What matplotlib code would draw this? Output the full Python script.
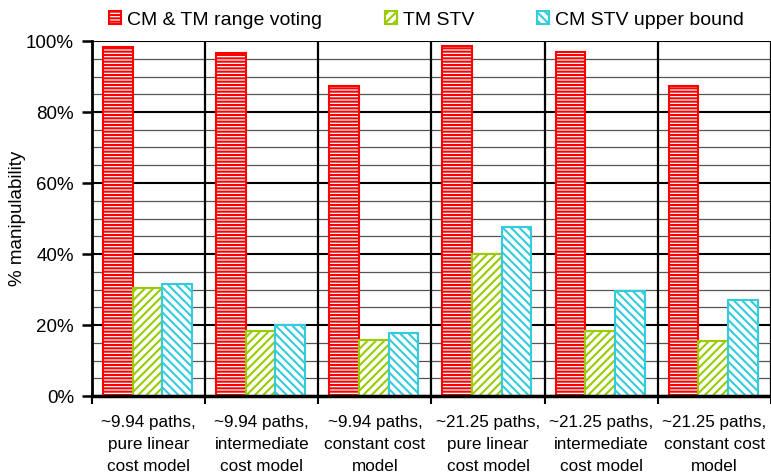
import numpy as np
import matplotlib
matplotlib.use('Agg')
import matplotlib.pyplot as plt
from matplotlib.ticker import MultipleLocator, FuncFormatter

categories = ['~9.94 paths,\npure linear\ncost model',
              '~9.94 paths,\nintermediate\ncost model',
              '~9.94 paths,\nconstant cost\nmodel',
              '~21.25 paths,\npure linear\ncost model',
              '~21.25 paths,\nintermediate\ncost model',
              '~21.25 paths,\nconstant cost\nmodel']
range_voting = [98.2, 96.6, 87.3, 98.6, 96.8, 87.4]
tm_stv = [30.3, 18.2, 15.7, 40.1, 18.3, 15.4]
cm_stv_upper = [31.5, 19.9, 17.7, 47.6, 29.6, 27.0]

series = [
    ('CM & TM range voting', range_voting, '#FF0000', '-----'),
    ('TM STV', tm_stv, '#99CC00', '////'),
    ('CM STV upper bound', cm_stv_upper, '#33CCDD', '\\\\\\\\'),
]

plt.rcParams['font.family'] = ['Liberation Sans', 'DejaVu Sans']
plt.rcParams['hatch.linewidth'] = 1.5

fig = plt.figure(figsize=(7.71, 4.73), dpi=100)
ax = fig.add_axes([92 / 771, 1 - 396 / 473, 1 - 92 / 771, (396 - 41) / 473])

x = np.arange(len(categories))
width = 0.262
for k, (name, vals, color, hatch) in enumerate(series):
    ax.bar(x + (k - 1) * width - 0.01, vals, width, facecolor='white',
           edgecolor=color, hatch=hatch, linewidth=1.5, label=name, zorder=3)

ax.set_xlim(-0.5, 5.5)
ax.set_ylim(0, 100)
ax.yaxis.set_major_locator(MultipleLocator(20))
ax.yaxis.set_minor_locator(MultipleLocator(5))
ax.yaxis.set_major_formatter(FuncFormatter(lambda v, p: f"{v:.0f}%"))
ax.grid(which='major', axis='y', color='black', linewidth=1.5, zorder=1)
ax.grid(which='minor', axis='y', color='#555555', linewidth=0.9, zorder=1)
for b in np.arange(-0.5, 6.0, 1.0):
    ax.axvline(b, color='black', linewidth=1.6, zorder=2)

ax.set_xticks(x)
ax.set_xticklabels(categories, fontsize=12.3, linespacing=1.55)
ax.set_xticks(np.arange(-0.5, 6.0, 1.0), minor=True)
ax.tick_params(axis='x', which='major', length=0, pad=14)
ax.tick_params(axis='x', which='minor', length=6, width=1.5, direction='out')
ax.tick_params(axis='y', which='major', length=7, width=1.8, labelsize=13.5, pad=6)
ax.tick_params(axis='y', which='minor', length=0)

for side in ['top', 'right']:
    ax.spines[side].set_visible(False)
ax.spines['left'].set_linewidth(2)
ax.spines['bottom'].set_linewidth(2.5)
ax.spines['left'].set_zorder(4)
ax.spines['bottom'].set_zorder(4)

ax.set_ylabel('% manipulability', fontsize=13.5, labelpad=0)

fig.legend(loc='center', bbox_to_anchor=(0.553, 1 - 20 / 473), ncol=3,
           frameon=False, fontsize=14, handlelength=0.65, handleheight=0.65,
           handletextpad=0.3, columnspacing=3.2, borderaxespad=0)

fig.savefig('out.png', dpi=100)
